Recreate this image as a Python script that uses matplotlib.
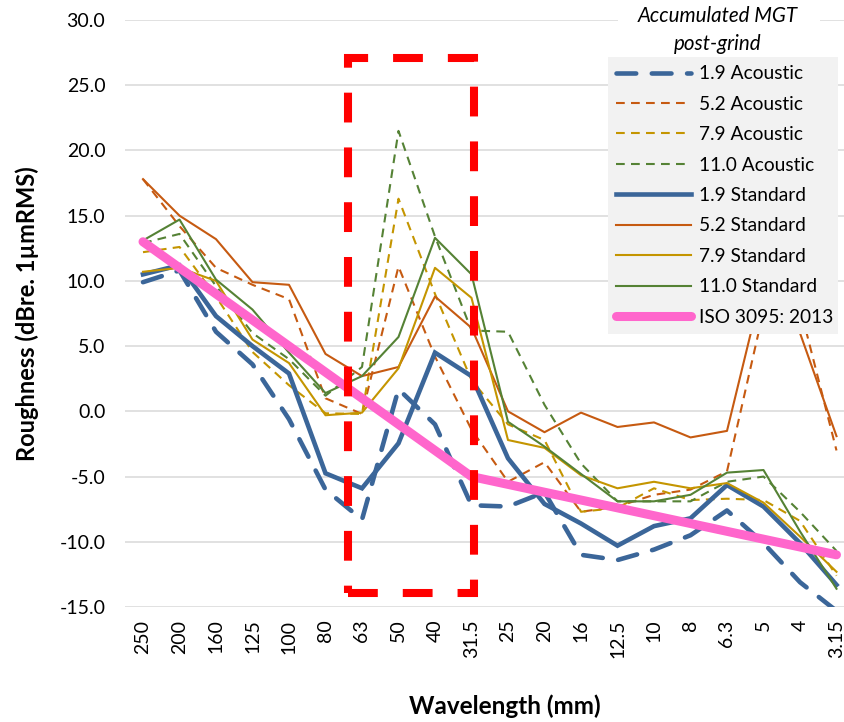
import matplotlib
matplotlib.use("Agg")
import matplotlib.pyplot as plt
from matplotlib.patches import Rectangle
import numpy as np

plt.rcParams['font.family'] = ['Lato', 'DejaVu Sans']

wavelengths = ['250', '200', '160', '125', '100', '80', '63', '50', '40', '31.5',
               '25', '20', '16', '12.5', '10', '8', '6.3', '5', '4', '3.15']

ac_1_9 = [9.9, 10.8, 6.1, 3.6, -0.6, -6.0, -8.3, 1.7, -1.0, -7.2,
          -7.3, -6.2, -11.0, -11.4, -10.6, -9.5, -7.6, -10.1, -13.1, -15.3]
ac_5_2 = [17.8, 14.2, 11.0, 9.7, 8.6, 1.0, -0.2, 11.1, 4.2, -1.4,
          -5.4, -3.9, -7.7, -7.3, -6.4, -6.0, -4.6, 7.7, 8.0, -3.0]
ac_7_9 = [12.2, 12.6, 8.8, 4.55, 2.0, -0.15, -0.2, 16.3, 9.0, 2.4,
          -1.0, -2.2, -7.7, -7.4, -5.9, -6.8, -6.7, -6.8, -8.4, -12.6]
ac_11_0 = [12.9, 13.6, 9.6, 6.0, 4.0, 1.2, 3.4, 21.5, 13.4, 6.2,
           6.1, 0.5, -4.0, -6.9, -6.9, -6.9, -5.4, -5.0, -7.7, -10.7]

std_1_9 = [10.5, 11.2, 7.3, 5.0, 2.9, -4.75, -5.9, -2.45, 4.5, 2.7,
           -3.6, -7.1, -8.6, -10.3, -8.8, -8.2, -5.65, -7.3, -10.1, -13.3]
std_5_2 = [17.8, 15.0, 13.2, 9.9, 9.7, 4.4, 2.7, 3.4, 8.8, 6.4,
           0.0, -1.6, -0.1, -1.2, -0.85, -2.0, -1.5, 10.0, 6.0, -1.9]
std_7_9 = [10.7, 11.0, 10.0, 5.5, 3.7, -0.3, -0.1, 3.3, 11.0, 8.7,
           -2.2, -2.8, -4.9, -5.9, -5.4, -5.9, -5.5, -7.0, -9.6, -12.3]
std_11_0 = [13.1, 14.7, 10.1, 7.8, 4.5, 1.4, 2.7, 5.7, 13.3, 10.5,
            -0.8, -2.7, -4.8, -6.9, -6.9, -6.4, -4.7, -4.5, -9.2, -13.6]

iso_3095 = [13.0, 11.0, 9.0, 7.0, 5.0, 3.0, 1.0, -1.0, -3.0, -5.0,
            -5.6, -6.2, -6.8, -7.4, -8.0, -8.6, -9.2, -9.8, -10.4, -11.0]

labels_ac = ['1.9 Acoustic', '5.2 Acoustic', '7.9 Acoustic', '11.0 Acoustic']
labels_std = ['1.9 Standard', '5.2 Standard', '7.9 Standard', '11.0 Standard']
label_iso = 'ISO 3095: 2013'
legend_title = 'Accumulated MGT\npost-grind'

# highlight box (category-index units, dB units)
box_x = [5.62, 9.06]
box_y = [-13.95, 27.1]

BLUE = '#3b6699'
ORANGE = '#c65a11'
GOLD = '#c49500'
GREEN = '#558235'
PINK = '#ff66cc'

fig = plt.figure(figsize=(8.45, 7.22), dpi=100)
ax = fig.add_axes([124.75 / 845, 1 - 607 / 722, 1 - 124.75 / 845, (607 - 20) / 722])

x = np.arange(len(wavelengths))

ax.set_ylim(-15, 30)
ax.set_xlim(-0.5, 19.233)
yt = np.arange(-15, 31, 5)
ax.set_yticks(yt)
ax.set_yticklabels([f'{v:.1f}' for v in yt])
ax.set_xticks(x)
ax.set_xticklabels(wavelengths, rotation=90)
ax.grid(axis='y', color='#d9d9d9', linewidth=1.1)
ax.set_axisbelow(True)
for s in ax.spines.values():
    s.set_visible(False)
ax.tick_params(axis='both', length=0, labelsize=14, colors='#000000')
ax.tick_params(axis='y', pad=14)
ax.tick_params(axis='x', pad=9)

handles = []
thin = 1.5
lw_blue = 3.3
handles.append(ax.plot(x, ac_1_9, color=BLUE, lw=lw_blue, dashes=(4.3, 3.4),
                       dash_capstyle='round', label=labels_ac[0], zorder=3)[0])
for vals, col, lab in zip([ac_5_2, ac_7_9, ac_11_0], [ORANGE, GOLD, GREEN], labels_ac[1:]):
    handles.append(ax.plot(x, vals, color=col, lw=thin, dashes=(4.2, 3.0),
                           label=lab, zorder=3)[0])
handles.append(ax.plot(x, std_1_9, color=BLUE, lw=lw_blue, solid_joinstyle='miter',
                       label=labels_std[0], zorder=3)[0])
for vals, col, lab in zip([std_5_2, std_7_9, std_11_0], [ORANGE, GOLD, GREEN], labels_std[1:]):
    handles.append(ax.plot(x, vals, color=col, lw=thin, label=lab, zorder=3)[0])
handles.append(ax.plot(x, iso_3095, color=PINK, lw=6.5, solid_capstyle='round',
                       label=label_iso, zorder=4)[0])

rect = Rectangle((box_x[0], box_y[0]), box_x[1] - box_x[0], box_y[1] - box_y[0],
                 fill=False, edgecolor='#ff0000', lw=5.8, linestyle=(0, (3.7, 3.1)),
                 zorder=6)
ax.add_patch(rect)

ax.set_ylabel('Roughness (dBre. 1µmRMS)', fontsize=17, fontweight='bold')
ax.set_xlabel('Wavelength (mm)', fontsize=17.5, fontweight='bold')
ax.yaxis.set_label_coords(-(124.75 - 27) / (845 - 124.75), 0.5)
ax.xaxis.set_label_coords((505 - 124.75) / (845 - 124.75), -(706 - 607) / (607 - 20))
ax.xaxis.label.set_va('center')
ax.yaxis.label.set_va('center')

leg = fig.legend(handles=handles, loc='upper left',
                 bbox_to_anchor=(608 / 845, 1 - 58 / 722, 230 / 845, 0.001),
                 mode='expand', borderaxespad=0,
                 frameon=True, fancybox=False, facecolor='#f2f2f2', edgecolor='none',
                 framealpha=1, fontsize=13.8, handlelength=3.9, handletextpad=0.45,
                 labelspacing=0.70, borderpad=0.42)
leg.set_zorder(10)

# white backing behind the legend title (covers gridlines)
fig.patches.append(Rectangle((618 / 845, 1 - 57 / 722), 202 / 845, 57 / 722,
                             transform=fig.transFigure, facecolor='white',
                             edgecolor='none', zorder=9))
fig.text(718 / 845, 1 - 30 / 722, legend_title, ha='center', va='center',
         fontsize=14.8, style='italic', linespacing=1.5, zorder=11)

fig.savefig('out.png', dpi=100)
